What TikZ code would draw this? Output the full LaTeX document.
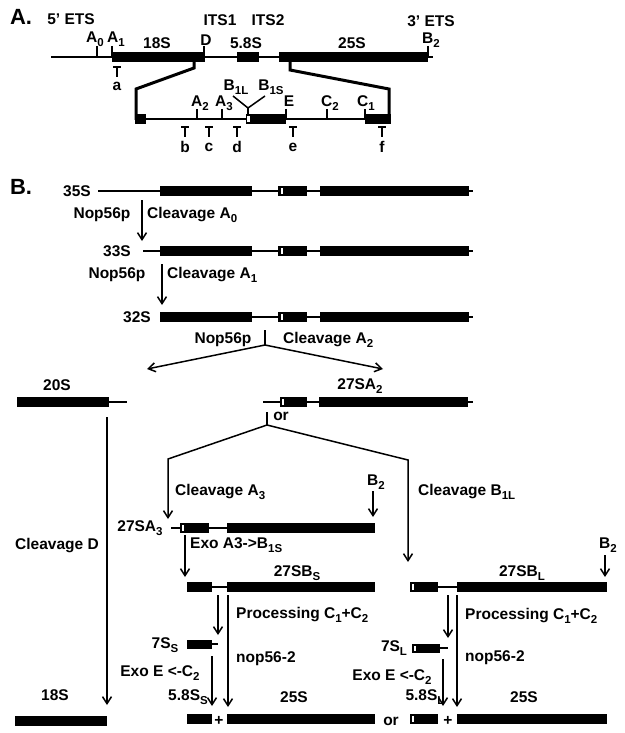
\documentclass[tikz,border=0pt]{standalone}
\usepackage{fontspec}
\setmainfont{Liberation Sans}
\usetikzlibrary{arrows.meta}

\newcommand{\lo}[1]{\raisebox{-0.45ex}{\fontsize{11.5}{12}\selectfont\bfseries #1}}
\newcommand{\blk}[3]{\fill (#1,#3-5) rectangle (#2,#3+5);}
\newcommand{\nick}[2]{\fill[white] (#1,#2-3) rectangle (#1+2,#2+3);}
\newcommand{\probe}[1]{\draw[line width=1.8pt] (#1-4,67) -- (#1+4,67) (#1,67) -- (#1,77);}
% pre-rRNA with all spacers, from a start point to the 3' end
\newcommand{\prerow}[2]{%
   \draw[rna] (#1,#2) -- (473,#2);
   \blk{160}{252}{#2}\blk{278}{307}{#2}\nick{280.5}{#2}\blk{320}{469}{#2}}

\tikzset{
   lbl/.style={font=\fontsize{15.5}{17}\selectfont\bfseries, inner sep=0pt},
   part/.style={font=\fontsize{22}{24}\selectfont\bfseries, inner sep=0pt},
   rna/.style={line width=2pt},
   zoomln/.style={line width=3pt, line join=miter},
   flow/.style={line width=1.5pt, -{Straight Barb[length=7pt,width=9pt,line width=1.5pt]}},
}

\begin{document}
\begin{tikzpicture}[x=1pt, y=-1pt]
   \useasboundingbox (0,0) rectangle (624,733);

   % A. the 35S precursor
   \node[part] (partA) at (21,17) {A.};
   \node[lbl] (ets5) at (71,19) {5' ETS};
   \node[lbl] (its1) at (220,20) {ITS1};
   \node[lbl] (its2) at (268,20) {ITS2};
   \node[lbl] (ets3) at (431,21) {3' ETS};

   \draw[rna] (51,57) -- (433,57);
   \fill (112,52.5) rectangle (205,62);
   \fill (237,52.5) rectangle (259,62);
   \fill (279,52.5) rectangle (428,62);
   \foreach \x in {97,112,204,428}
      \draw[line width=1.5pt] (\x,46) -- (\x,57);

   \node[lbl] (sA0) at (95,39) {A\lo{0}};
   \node[lbl] (sA1) at (116,39) {A\lo{1}};
   \node[lbl] (r18) at (157,43) {18S};
   \node[lbl] (sD) at (206,40) {D};
   \node[lbl] (r58) at (246,43) {5.8S};
   \node[lbl] (r25) at (352,43) {25S};
   \node[lbl] (sB2) at (431,40) {B\lo{2}};
   \probe{117}
   \node[lbl] (pa) at (117,86) {a};

   % expanded ITS1 - ITS2 region
   \draw[zoomln] (194,62) -- (194,68) -- (136,89) -- (136,120);
   \draw[zoomln] (290,62) -- (290,70) -- (389,89) -- (389,120);
   \draw[rna] (135,119) -- (390,119);
   \fill (134.5,114) rectangle (146,124);
   \fill (246,114) rectangle (286,124);
   \fill[white] (247.2,116) rectangle (249.6,122);
   \fill (365,114) rectangle (390.5,124);
   \foreach \x in {197,222,286,327,365}
      \draw[line width=1.5pt] (\x,109) -- (\x,119);
   \draw[line width=1.5pt] (233,96) -- (248,108) -- (265,96);
   \draw[line width=1.5pt] (248,108) -- (248,114);

   \node[lbl] (sA2) at (200,103) {A\lo{2}};
   \node[lbl] (sA3) at (224,103) {A\lo{3}};
   \node[lbl] (sB1L) at (236,87) {B\lo{1L}};
   \node[lbl] (sB1S) at (271,87) {B\lo{1S}};
   \node[lbl] (sE) at (289,101) {E};
   \node[lbl] (sC2) at (330,103) {C\lo{2}};
   \node[lbl] (sC1) at (366,103) {C\lo{1}};
   \foreach \x/\p in {185/b,209/c,237/d,293/e,382/f} {
      \draw[line width=1.8pt] (\x-4,127) -- (\x+4,127) (\x,127) -- (\x,137);
      \node[lbl] at (\x,147) {\p};
   }

   % B. processing pathway
   \node[part] (partB) at (21,187) {B.};

   \node[lbl] (n35S) at (77,191) {35S};
   \prerow{98}{191}
   \draw (142,200) node[] (a0s) {};
   \draw (142,241) node[] (a0e) {};
   \draw[flow] (a0s.center) -- (a0e.center);
   \node[lbl] (e1) at (102,215) {Nop56p};
   \node[lbl, anchor=west] (c1) at (147,215) {Cleavage A\lo{0}};

   \node[lbl] (n33S) at (117,251) {33S};
   \prerow{143}{251}
   \draw (162,264) node[] (a1s) {};
   \draw (162,305) node[] (a1e) {};
   \draw[flow] (a1s.center) -- (a1e.center);
   \node[lbl] (e2) at (117,275) {Nop56p};
   \node[lbl, anchor=west] (c2) at (167,275) {Cleavage A\lo{1}};

   \node[lbl] (n32S) at (137,317) {32S};
   \prerow{160}{317}
   \draw (265,330) node[] (a2s) {};
   \draw (265,345) node[] (a2m) {};
   \draw (147,369) node[] (a2l) {};
   \draw (383,369) node[] (a2r) {};
   \draw[line width=1.5pt] (a2s.center) -- (a2m.center);
   \draw[flow] (a2m.center) -- (a2l.center);
   \draw[flow] (a2m.center) -- (a2r.center);
   \node[lbl] (e3) at (223,340) {Nop56p};
   \node[lbl, anchor=west] (c3) at (283,340) {Cleavage A\lo{2}};

   % 20S and 27SA2
   \node[lbl] (n20S) at (57,385) {20S};
   \draw[rna] (109,402) -- (127,402);
   \blk{17}{109}{402}
   \node[lbl] (n27A2) at (360,386) {27SA\lo{2}};
   \draw[rna] (263,402) -- (473,402);
   \blk{280}{307}{402}\nick{282}{402}\blk{319}{468}{402}

   \draw (267,412) node[] (ors) {};
   \draw (267,425) node[] (orm) {};
   \draw (168,459) node[] (orl) {};
   \draw (168,519) node[] (orle) {};
   \draw (408,460) node[] (orr) {};
   \draw (408,562) node[] (orre) {};
   \node[lbl] (or1) at (281,416) {or};
   \draw[line width=1.5pt] (ors.center) -- (orm.center);
   \draw[flow] (orm.center) -- (orl.center) -- (orle.center);
   \draw[flow] (orm.center) -- (orr.center) -- (orre.center);
   \node[lbl, anchor=west] (c4) at (175,492) {Cleavage A\lo{3}};
   \node[lbl, anchor=west] (c5) at (418,492) {Cleavage B\lo{1L}};

   % Cleavage D
   \draw (107,417) node[] (ds) {};
   \draw (107,705) node[] (de) {};
   \draw[flow] (ds.center) -- (de.center);
   \node[lbl] (cD) at (57,546) {Cleavage D};
   \node[lbl] (n18S) at (55,695) {18S};
   \blk{15}{107}{721}

   % 27SA3
   \node[lbl] (b2a) at (376,482) {B\lo{2}};
   \draw (373,491) node[] (b2as) {};
   \draw (373,517) node[] (b2ae) {};
   \draw[flow] (b2as.center) -- (b2ae.center);
   \node[lbl] (n27A3) at (140,528) {27SA\lo{3}};
   \draw[rna] (171,528) -- (227,528);
   \blk{180}{209}{528}\nick{181.5}{528}\blk{227}{375}{528}
   \draw (185,535) node[] (exs) {};
   \draw (185,577) node[] (exe) {};
   \draw[flow] (exs.center) -- (exe.center);
   \node[lbl, anchor=west] (exo1) at (190,545) {Exo A3->B\lo{1S}};

   % 27SBS branch
   \node[lbl] (n27BS) at (297,573) {27SB\lo{S}};
   \draw[rna] (212,587) -- (227,587);
   \blk{187}{212}{587}\blk{227}{375}{587}
   \draw (218,595) node[] (psS) {};
   \draw (218,635) node[] (peS) {};
   \draw (228,595) node[] (lsS) {};
   \draw (228,707) node[] (leS) {};
   \draw[flow] (psS.center) -- (peS.center);
   \draw[flow] (lsS.center) -- (leS.center);
   \node[lbl, anchor=west] (prS) at (236,615) {Processing C\lo{1}+C\lo{2}};
   \node[lbl] (n7SS) at (165,645) {7S\lo{S}};
   \draw[rna] (212,644) -- (218,644);
   \fill (187,639.5) rectangle (212,649);
   \draw (212,656) node[] (xsS) {};
   \draw (212,706) node[] (xeS) {};
   \draw[flow] (xsS.center) -- (xeS.center);
   \node[lbl] (exS) at (160,673) {Exo E <-C\lo{2}};
   \node[lbl, anchor=west] (mS) at (236,659) {nop56-2};
   \node[lbl] (n58S) at (188,697) {5.8S\lo{S}};
   \node[lbl] (n25S1) at (294,697) {25S};
   \blk{187}{212}{719}
   \node[lbl] (plus1) at (219,721) {+};
   \blk{227}{375}{719}
   \node[lbl] (or2) at (391,721) {or};

   % 27SBL branch
   \node[lbl] (b2b) at (608,545) {B\lo{2}};
   \draw (605,555) node[] (b2bs) {};
   \draw (605,577) node[] (b2be) {};
   \draw[flow] (b2bs.center) -- (b2be.center);
   \node[lbl] (n27BL) at (522,573) {27SB\lo{L}};
   \draw[rna] (438,587) -- (457,587);
   \blk{410}{438}{587}\nick{411.5}{587}\blk{457}{607}{587}
   \draw (448,595) node[] (psL) {};
   \draw (448,638) node[] (peL) {};
   \draw (457,595) node[] (lsL) {};
   \draw (457,707) node[] (leL) {};
   \draw[flow] (psL.center) -- (peL.center);
   \draw[flow] (lsL.center) -- (leL.center);
   \node[lbl, anchor=west] (prL) at (465,616) {Processing C\lo{1}+C\lo{2}};
   \node[lbl] (n7SL) at (394,648) {7S\lo{L}};
   \draw[rna] (440,648) -- (448,648);
   \fill (412,643.5) rectangle (440,653);
   \fill[white] (413.5,645.5) rectangle (415.5,651);
   \draw (443,659) node[] (xsL) {};
   \draw (443,706) node[] (xeL) {};
   \draw[flow] (xsL.center) -- (xeL.center);
   \node[lbl] (exL) at (392,677) {Exo E <-C\lo{2}};
   \node[lbl, anchor=west] (mL) at (465,658) {nop56-2};
   \node[lbl] (n58L) at (425,697) {5.8S\lo{L}};
   \node[lbl] (n25S2) at (524,697) {25S};
   \blk{410}{438}{719}\nick{411.5}{719}
   \node[lbl] (plus2) at (448,721) {+};
   \blk{457}{607}{719}

\end{tikzpicture}
\end{document}
